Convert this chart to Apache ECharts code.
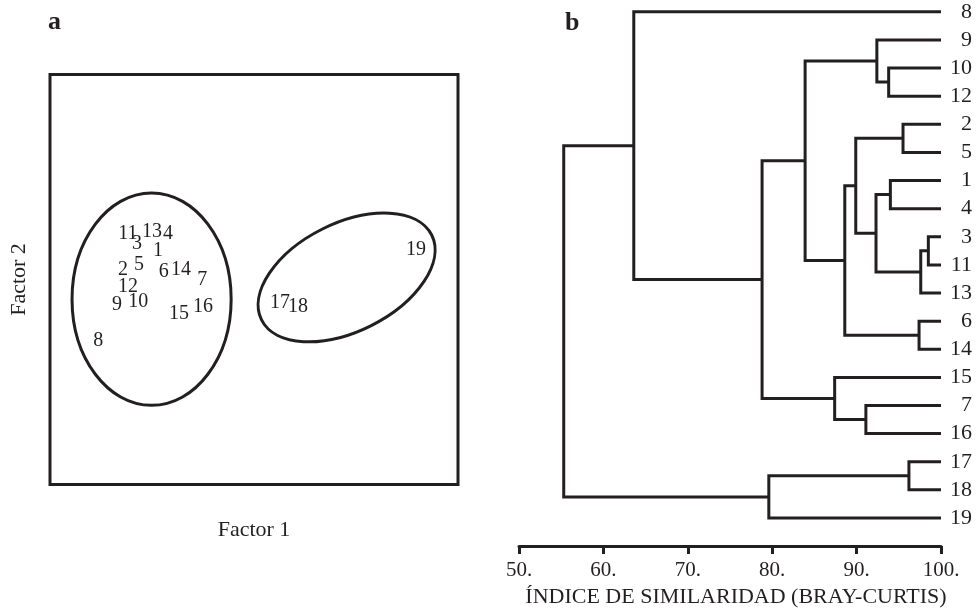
<!DOCTYPE html>
<html><head><meta charset="utf-8">
<script src="https://cdn.jsdelivr.net/npm/echarts@6/dist/echarts.min.js"></script>
<style>html,body{margin:0;padding:0;background:#fff}#c{width:980px;height:613px}</style>
</head><body><div id="c"></div>
<script>
// ---- Panel a: ordination (label, Factor 1, Factor 2) ----
const pointLabels = ['11','13','4','3','1','2','5','6','14','7','12','9','10','15','16','8','17','18','19'];
const factor1 = [19.1,25.0,28.9,21.3,26.5,17.9,21.8,27.9,32.1,37.3,19.1,16.4,21.6,31.6,37.5,11.8,56.4,60.8,89.7];
const factor2 = [61.1,61.6,61.1,58.7,57.0,52.3,53.5,51.8,52.3,49.9,48.2,43.8,44.5,41.6,43.3,35.0,44.3,43.3,57.2];
// group ellipses
const ellipseCx = [24.9, 72.7];
const ellipseCy = [45.2, 50.5];
const ellipseRx = [19.5, 23.3];
const ellipseRy = [25.9, 13.2];
const ellipseAngle = [0, 26.5];

// ---- Panel b: dendrogram (Bray-Curtis similarity) ----
const leafOrder = ['8','9','10','12','2','5','1','4','3','11','13','6','14','15','7','16','17','18','19'];
const nodeNames = ['Root','A','B','C','D','E','F','G','H','I','J','K','L','M','N','O','Q','P'];
const nodeLeft  = ['A','8','C','D','9','10','G','H','2','J','1','L','3','6','15','7','P','17'];
const nodeRight = ['Q','B','N','F','E','12','M','I','5','K','4','13','11','14','O','16','19','18'];
const nodeSim   = [55.3,63.6,78.8,83.9,92.4,93.8,88.6,89.9,95.5,92.3,94.0,97.6,98.5,97.4,87.4,91.1,79.6,96.2];
const simTicks  = [50,60,70,80,90,100];

const INK = '#231f20';
const SERIF = '"Liberation Serif","Times New Roman",serif';

// layout of tree: y of leaves = order index, internal = mean of children
const yPos = {}, simOf = {};
leafOrder.forEach((l,i)=>{ yPos[l]=i; simOf[l]=100; });
nodeNames.forEach((n,i)=>{ simOf[n]=nodeSim[i]; });
function getY(n){
  if (yPos[n] !== undefined) return yPos[n];
  const i = nodeNames.indexOf(n);
  yPos[n] = (getY(nodeLeft[i]) + getY(nodeRight[i]))/2;
  return yPos[n];
}
const dendroData = nodeNames.map((n,i)=>[nodeSim[i], getY(nodeLeft[i]), simOf[nodeLeft[i]], getY(nodeRight[i]), simOf[nodeRight[i]]]);
const leafData = leafOrder.map((l,i)=>[100, i, l]);
const pointData = pointLabels.map((l,i)=>[factor1[i], factor2[i], l]);
const ellipseData = ellipseCx.map((c,i)=>[c, ellipseCy[i], ellipseRx[i], ellipseRy[i], ellipseAngle[i]]);

const chart = echarts.init(document.getElementById('c'), null, {renderer:'canvas'});
chart.setOption({
  animation:false,
  backgroundColor:'#fff',
  title:[
    {text:'a', left:43, top:4, textStyle:{fontFamily:SERIF, fontWeight:'bold', fontSize:26, color:INK}},
    {text:'b', left:560, top:5, textStyle:{fontFamily:SERIF, fontWeight:'bold', fontSize:26, color:INK}}
  ],
  grid:[
    {left:50, top:74.5, width:408, height:410, show:true, borderColor:INK, borderWidth:3, backgroundColor:'transparent'},
    {left:519, top:0, width:422, height:551, show:false}
  ],
  xAxis:[
    {gridIndex:0, type:'value', min:0, max:100, axisLine:{show:false}, axisTick:{show:false}, axisLabel:{show:false}, splitLine:{show:false},
     name:'Factor 1', nameLocation:'middle', nameGap:35, nameTextStyle:{fontFamily:SERIF, fontSize:22, color:INK}},
    {gridIndex:1, type:'value', position:'bottom', min:50, max:100, interval:10,
     axisLine:{show:true, onZero:false, lineStyle:{color:INK, width:3}},
     axisTick:{show:true, inside:false, length:8, lineStyle:{color:INK, width:3}},
     axisLabel:{show:true, margin:14, formatter:v=>v+'.', fontFamily:SERIF, fontSize:21, color:INK},
     splitLine:{show:false},
     name:'ÍNDICE DE SIMILARIDAD (BRAY-CURTIS)', nameLocation:'middle', nameGap:39,
     nameTextStyle:{fontFamily:SERIF, fontSize:22, color:INK, padding:[0,0,0,12]}}
  ],
  yAxis:[
    {gridIndex:0, type:'value', min:0, max:100, axisLine:{show:false}, axisTick:{show:false}, axisLabel:{show:false}, splitLine:{show:false},
     name:'Factor 2', nameLocation:'middle', nameGap:20, nameRotate:90, nameTextStyle:{fontFamily:SERIF, fontSize:22, color:INK}},
    {gridIndex:1, type:'value', inverse:true, min:-0.42, max:19, show:false}
  ],
  series:[
    {type:'custom', xAxisIndex:0, yAxisIndex:0, data:ellipseData, silent:true,
     renderItem:(params, api)=>{
       const c = api.coord([api.value(0), api.value(1)]);
       const s = api.size([api.value(2), api.value(3)]);
       return {type:'ellipse', x:c[0], y:c[1], rotation:api.value(4)*Math.PI/180,
         shape:{cx:0, cy:0, rx:s[0], ry:s[1]},
         style:{fill:'none', stroke:INK, lineWidth:3}};
     }},
    {type:'custom', xAxisIndex:0, yAxisIndex:0, data:pointData, silent:true,
     renderItem:(params, api)=>{
       const c = api.coord([api.value(0), api.value(1)]);
       return {type:'text', x:c[0], y:c[1],
         style:{text:pointData[params.dataIndex][2], fill:INK, font:'20px '+SERIF, align:'center', verticalAlign:'middle'}};
     }},
    {type:'custom', xAxisIndex:1, yAxisIndex:1, data:dendroData, silent:true,
     renderItem:(params, api)=>{
       const n = api.value(0), y1 = api.value(1), s1 = api.value(2), y2 = api.value(3), s2 = api.value(4);
       const pts = [api.coord([s1,y1]), api.coord([n,y1]), api.coord([n,y2]), api.coord([s2,y2])];
       return {type:'polyline', shape:{points:pts}, style:{fill:'none', stroke:INK, lineWidth:3, lineJoin:'miter'}};
     }},
    {type:'custom', xAxisIndex:1, yAxisIndex:1, data:leafData, silent:true,
     renderItem:(params, api)=>{
       const c = api.coord([api.value(0), api.value(1)]);
       return {type:'text', x:c[0]+31, y:c[1],
         style:{text:leafData[params.dataIndex][2], fill:INK, font:'22px '+SERIF, align:'right', verticalAlign:'middle'}};
     }}
  ]
});
</script></body></html>
